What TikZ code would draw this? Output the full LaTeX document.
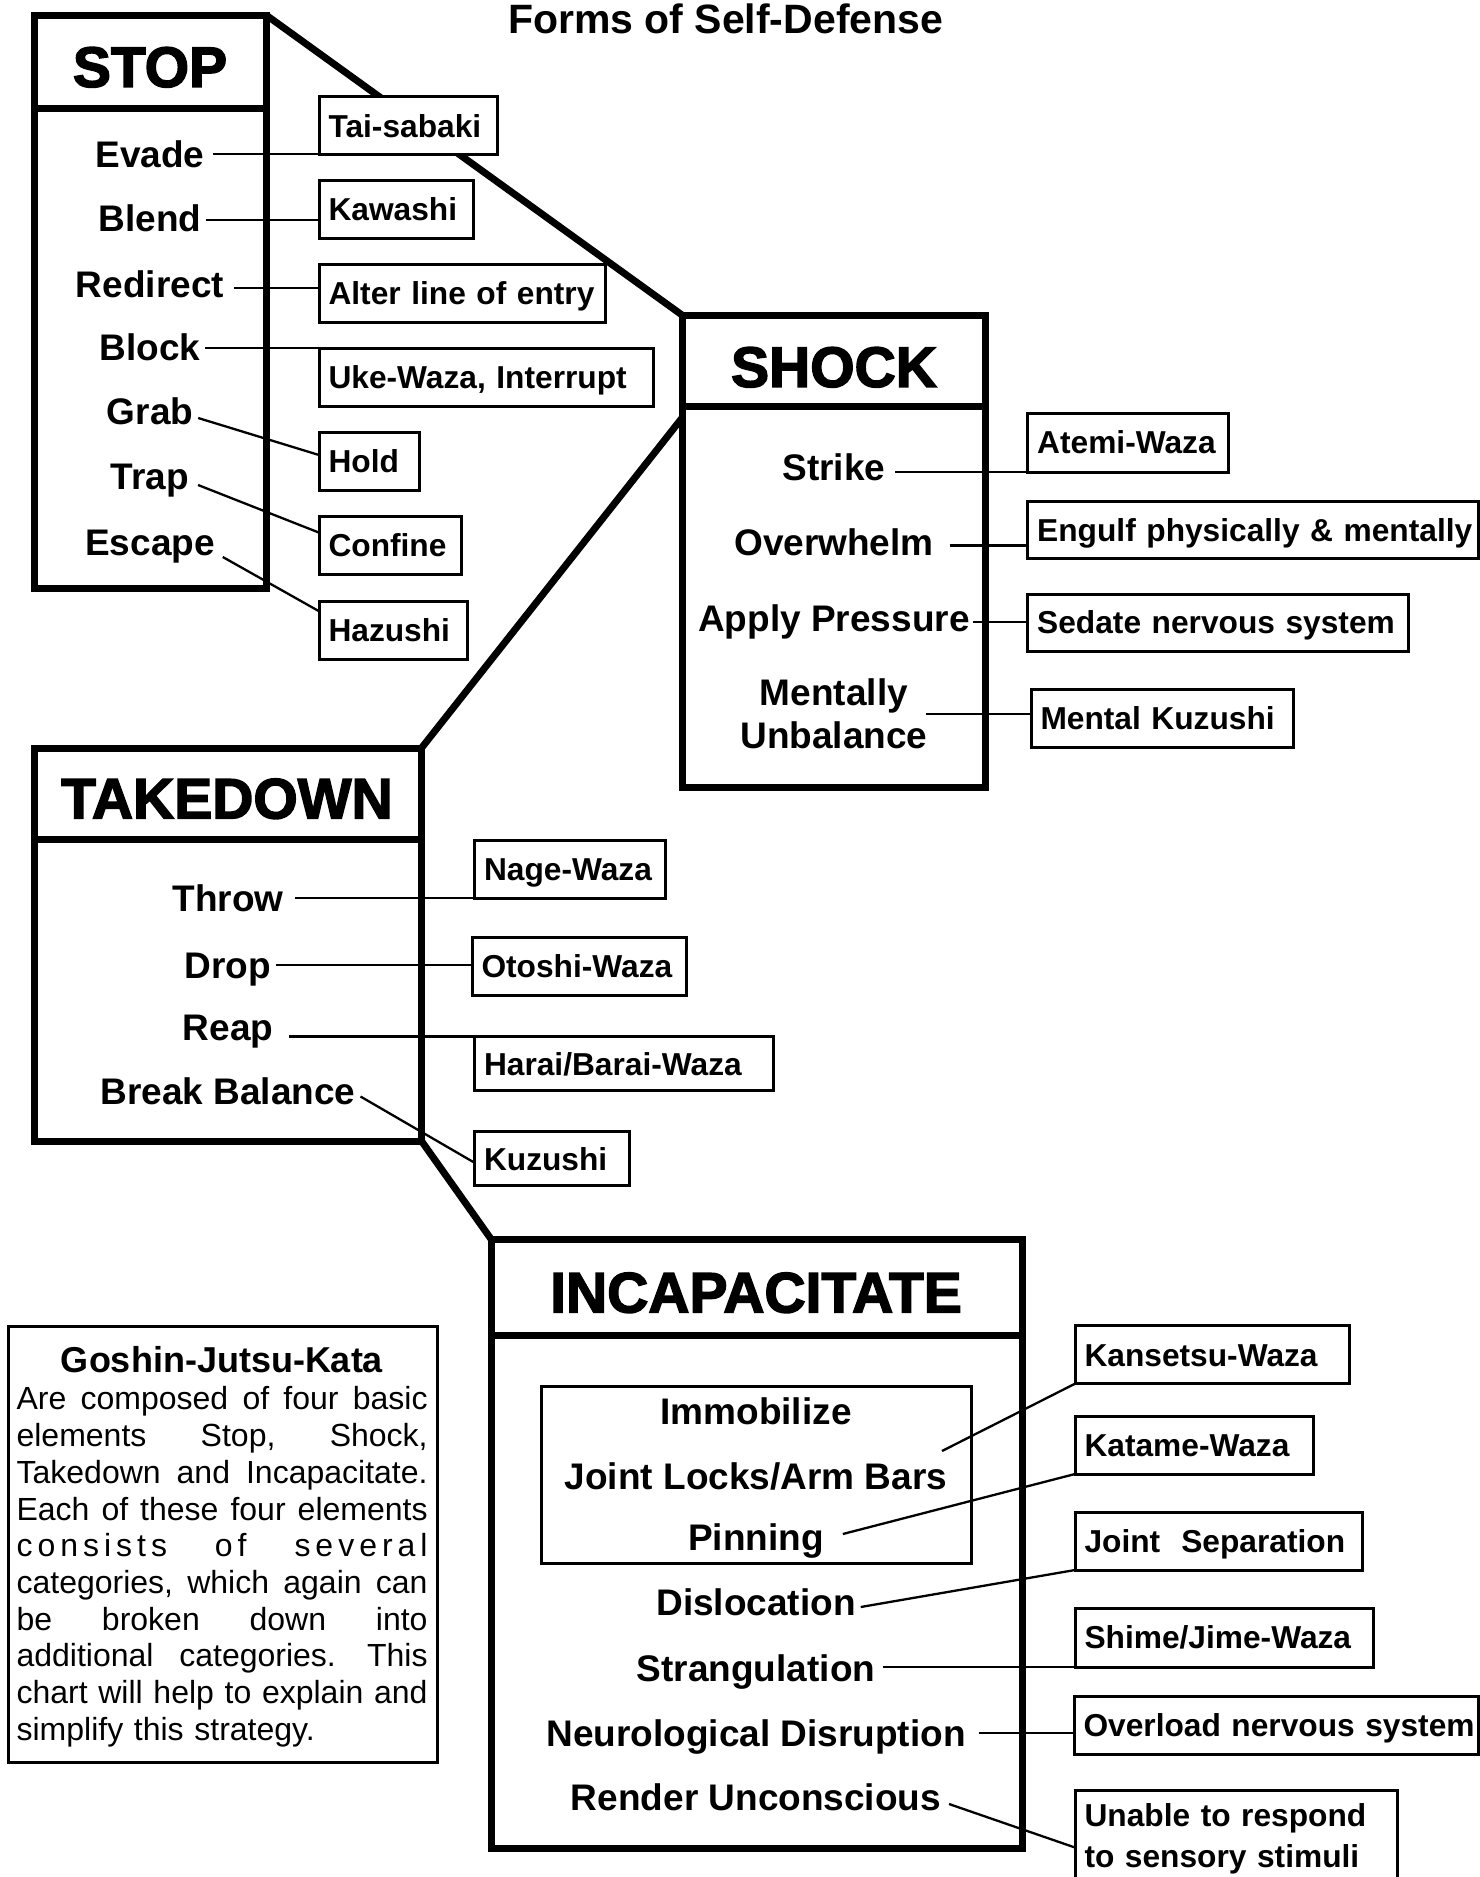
\documentclass[tikz,border=0pt]{standalone}
\usepackage{fontspec}
\setmainfont{Liberation Sans}
\newfontfamily\heavyfont{Liberation Sans}[BoldFeatures={FakeBold=2.6}]
\usetikzlibrary{calc}
\newcommand\gsl{\hskip0pt plus 1fil\relax}
\newcommand\gsw{\hskip 8pt plus 8fil\relax}
\newcommand\gline[1]{\leavevmode\hbox to 411pt{#1}}
\tikzset{
  every node/.style={outer sep=0pt},
  bigbox/.style={draw, line width=7pt, anchor=north west, inner sep=0pt},
  heavy/.style={line width=7pt},
  ttl/.style={font=\heavyfont\bfseries\fontsize{57}{60}\selectfont, text height=40.8pt, text depth=0pt, inner sep=0pt},
  item/.style={font=\bfseries\fontsize{37}{43}\selectfont, text height=26.5pt, text depth=0pt, inner sep=5pt},
  lbl/.style={draw, line width=3pt, fill=white, anchor=north west, inner xsep=9.5pt, inner ysep=0pt, align=left,
    font=\bfseries\fontsize{31.7}{40.5}\selectfont, text height=22.7pt, text depth=0pt, minimum height=58pt},
  lblmulti/.style={draw, line width=3pt, fill=white, anchor=north west, inner xsep=9.5pt, inner ysep=14pt, align=left,
    font=\bfseries\fontsize{31.7}{40.5}\selectfont},
  thinbox/.style={draw, line width=3pt, anchor=north west, inner sep=0pt},
  conn/.style={line width=2.8pt},
  diag/.style={line width=2.3pt}
}
\begin{document}
\begin{tikzpicture}[x=1pt,y=-1pt]
\useasboundingbox (0,0) rectangle (1480,1877);

% main title
\node[font=\bfseries\fontsize{41}{45}\selectfont, text height=29.4pt, text depth=0pt, inner sep=0pt] (maintitle) at (725.6,18.5) {Forms of Self-Defense};

% big boxes
\node[bigbox, minimum width=232pt, minimum height=573pt] (stop) at (34,15) {};
\node[bigbox, minimum width=303.5pt, minimum height=472pt] (shock) at (682,315) {};
\node[bigbox, minimum width=387pt, minimum height=393pt] (takedown) at (34.5,748) {};
\node[bigbox, minimum width=531.5pt, minimum height=609pt] (incap) at (491,1239) {};

% dividers
\draw[heavy] ([yshift=-93pt]stop.north west) -- ([yshift=-93pt]stop.north east);
\draw[heavy] ([yshift=-91pt]shock.north west) -- ([yshift=-91pt]shock.north east);
\draw[heavy] ([yshift=-91pt]takedown.north west) -- ([yshift=-91pt]takedown.north east);
\draw[heavy] ([yshift=-96.5pt]incap.north west) -- ([yshift=-96.5pt]incap.north east);

% box to box connectors
\draw[heavy] (stop.north east) -- (shock.north west);
\draw[heavy] ([yshift=-103pt]shock.north west) -- (takedown.north east);
\draw[heavy] (takedown.south east) -- (incap.north west);

% titles
\node[ttl] (stoptitle) at (150,66.5) {STOP};
\node[ttl] (shocktitle) at (834,366.5) {SHOCK};
\node[ttl] (tdtitle) at (227,798) {TAKEDOWN};
\node[ttl] (inctitle) at (756,1292) {INCAPACITATE};

% label boxes: STOP
\node[lbl, text width=159pt] (tai) at (319,96.7) {Tai-sabaki};
\node[lbl, text width=135pt] (kawashi) at (319,180) {Kawashi};
\node[lbl, text width=267pt] (alter) at (319,264.5) {Alter line of entry};
\node[lbl, text width=315.5pt] (uke) at (319,348) {Uke-Waza, Interrupt};
\node[lbl, text width=81pt] (hold) at (319,432.6) {Hold};
\node[lbl, text width=123pt] (confine) at (319,516) {Confine};
\node[lbl, text width=129pt] (hazushi) at (319,601) {Hazushi};

% label boxes: SHOCK
\node[lbl, text width=182pt, minimum height=59pt] (atemi) at (1027.7,413) {Atemi-Waza};
\node[lbl, text width=432pt, minimum height=56.6pt] (engulf) at (1027.7,501.7) {\mbox{Engulf physically \& mentally}};
\node[lbl, text width=362pt, minimum height=57pt] (sedate) at (1027.7,594) {Sedate nervous system};
\node[lbl, text width=243pt] (mental) at (1031,689) {Mental Kuzushi};

% label boxes: TAKEDOWN
\node[lbl, text width=171.5pt] (nage) at (474.5,840) {Nage-Waza};
\node[lbl, text width=195pt, minimum height=58.7pt] (otoshi) at (472,937) {Otoshi-Waza};
\node[lbl, text width=279.5pt, minimum height=54pt] (harai) at (474.5,1036.7) {Harai/Barai-Waza};
\node[lbl, text width=135.5pt, minimum height=54pt] (kuzushi) at (474.5,1131.7) {Kuzushi};

% label boxes: INCAPACITATE
\node[lbl, text width=255pt] (kansetsu) at (1075,1325.7) {Kansetsu-Waza};
\node[lbl, text width=219pt] (katame) at (1075,1416) {Katame-Waza};
\node[lbl, text width=268pt] (jointsep) at (1075,1512) {Joint~~Separation};
\node[lbl, text width=279pt, minimum height=59pt] (shime) at (1075,1608) {Shime/Jime-Waza};
\node[lbl, text width=385pt] (overload) at (1074,1696) {\mbox{Overload nervous system}};
\node[lblmulti, text width=303pt] (unable) at (1075,1790) {Unable to respond\\to sensory stimuli};

% items STOP
\node[item] (evade) at (150,154) {Evade};
\node[item] (blend) at (150,218) {Blend};
\node[item] (redirect) at (150,284) {Redirect};
\node[item] (block) at (150,347.5) {Block};
\node[item] (grab) at (150,411) {Grab};
\node[item] (trap) at (150,476.5) {Trap};
\node[item] (escape) at (150,542) {Escape};

% items SHOCK
\node[item] (strike) at (834,467.5) {Strike};
\node[item] (overwhelm) at (834,542.5) {Overwhelm};
\node[item] (apply) at (834,618) {Apply Pressure};
\node[font=\bfseries\fontsize{37}{43}\selectfont, align=center, inner sep=5pt] (mentun) at (834,714) {Mentally\\Unbalance};

% items TAKEDOWN
\node[item] (throw) at (228,898.5) {Throw};
\node[item] (drop) at (228,965) {Drop};
\node[item] (reap) at (228,1027) {Reap};
\node[item] (breakb) at (228,1091.5) {Break Balance};

% items INCAPACITATE
\node[thinbox, minimum width=430pt, minimum height=177.8pt] (immobox) at (541,1386) {};
\node[item] (immob) at (756,1411) {Immobilize};
\node[item] (jlocks) at (756,1476) {Joint Locks/Arm Bars};
\node[item] (pinning) at (756,1537) {Pinning};
\node[item] (disloc) at (756,1602) {Dislocation};
\node[item] (strang) at (756,1668) {Strangulation};
\node[item] (neuro) at (756,1733) {Neurological Disruption};
\node[item] (render) at (756,1797) {Render Unconscious};

% connectors STOP
\draw[conn] ([xshift=3pt]evade.east) -- (evade.east -| tai.west);
\draw[conn] ([yshift=-2pt]blend.east) -- ([yshift=-2pt]blend.east -| kawashi.west);
\draw[conn] ([shift={(5pt,-4pt)}]redirect.east) -- ([yshift=-4pt]redirect.east -| alter.west);
\draw[conn] (block.east |- uke.north west) -- (uke.north west);
\draw[diag] ([yshift=-7pt]grab.east) -- ([yshift=6.6pt]hold.west);
\draw[diag] ([shift={(4pt,-8.5pt)}]trap.east) -- ([yshift=12.4pt]confine.west);
\draw[diag] ([shift={(3pt,-15pt)}]escape.east) -- ([yshift=18.8pt]hazushi.west);

% connectors SHOCK
\draw[conn] ([xshift=5pt]strike.east |- atemi.south west) -- (atemi.south west);
\draw[conn] ([shift={(11pt,-3pt)}]overwhelm.east) -- ([yshift=-3pt]overwhelm.east -| engulf.west);
\draw[conn] ([shift={(-2pt,-4pt)}]apply.east) -- ([yshift=-4pt]apply.east -| sedate.west);
\draw[conn] ([xshift=-7pt]mentun.east) -- (mentun.east -| mental.west);

% connectors TAKEDOWN
\draw[conn] ([xshift=7pt]throw.east |- nage.south west) -- (nage.south west);
\draw[conn] (drop.east) -- (drop.east -| otoshi.west);
\draw[conn] ([xshift=11pt]reap.east |- harai.north west) -- (harai.north west);
\draw[diag] ([yshift=-5pt]breakb.east) -- ([yshift=-4pt]kuzushi.west);

% connectors INCAPACITATE
\coordinate (imfree) at (942,1451);
\draw[diag] (imfree) -- (kansetsu.south west);
\draw[diag] ([shift={(14pt,3pt)}]pinning.east) -- (katame.south west);
\draw[diag] ([yshift=-5pt]disloc.east) -- (jointsep.south west);
\draw[conn] ([xshift=3pt]strang.east |- shime.south west) -- (shime.south west);
\draw[conn] ([xshift=8pt]neuro.east) -- (neuro.east -| overload.west);
\draw[diag] ([shift={(3pt,-7pt)}]render.east) -- ([yshift=-57.5pt]unable.north west);

% Goshin box
\node[thinbox, minimum width=429.5pt, minimum height=436pt] (goshin) at (8,1326.7) {};
\node[font=\bfseries\fontsize{36}{40}\selectfont, text height=25.8pt, text depth=0pt, inner sep=0pt] (goshintitle) at (222,1360) {Goshin-Jutsu-Kata};
\node[anchor=north west, inner sep=0pt, text width=411pt, align=left, font=\fontsize{32}{36.7}\selectfont] (gbody) at (16.6,1386.7) {%
\gline{Are \hfil composed \hfil of \hfil four \hfil basic}\\
\gline{elements \hfil Stop, \hfil Shock,}\\
\gline{Takedown \hfil and \hfil Incapacitate.}\\
\gline{Each \hfil of \hfil these \hfil four \hfil elements}\\
\gline{c\gsl o\gsl n\gsl s\gsl i\gsl s\gsl t\gsl s\gsw o\gsl f\gsw s\gsl e\gsl v\gsl e\gsl r\gsl a\gsl l}\\
\gline{categories, \hfil which \hfil again \hfil can}\\
\gline{be \hfil broken \hfil down \hfil into}\\
\gline{additional \hfil categories. \hfil This}\\
\gline{chart \hfil will \hfil help \hfil to \hfil explain \hfil and}\\
simplify this strategy.};
\end{tikzpicture}
\end{document}
